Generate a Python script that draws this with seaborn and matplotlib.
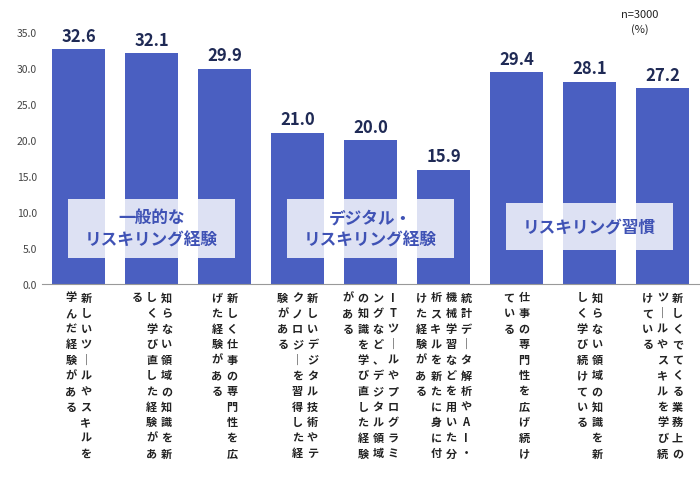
import matplotlib
matplotlib.use("Agg")
import matplotlib.pyplot as plt
import seaborn as sns
import pandas as pd

labels = [
    "新しいツールやスキルを学んだ経験がある",
    "知らない領域の知識を新しく学び直した経験がある",
    "新しく仕事の専門性を広げた経験がある",
    "新しいデジタル技術やテクノロジーを習得した経験がある",
    "ITツールやプログラミングなど、デジタル領域の知識を学び直した経験がある",
    "統計データ解析やAI・機械学習などを用いた分析スキルを新たに身に付けた経験がある",
    "仕事の専門性を広げ続けている",
    "知らない領域の知識を新しく学び続けている",
    "新しくでてくる業務上のツールやスキルを学び続けている",
]
values = [32.6, 32.1, 29.9, 21.0, 20.0, 15.9, 29.4, 28.1, 27.2]
groups = ["一般的な\nリスキリング経験", "デジタル・\nリスキリング経験", "リスキリング習慣"]
group_spans = [(0, 2), (3, 5), (6, 8)]
yticks = [0, 5, 10, 15, 20, 25, 30, 35]

plt.rcParams["font.family"] = "Noto Sans CJK JP"
fig = plt.figure(figsize=(7, 4.85), dpi=100)
L, R = 42, 699
ax = fig.add_axes([L/700, 1-285/485, (R-L)/700, (285-33)/485])
df = pd.DataFrame({"x": range(len(values)), "v": values})
sns.barplot(data=df, x="x", y="v", color="#4a5fc1", saturation=1, width=0.73, ax=ax)
ax.set_xlim(-0.5, 8.5)
ax.set_ylim(0, 35)
ax.set_yticks(yticks)
ax.set_yticklabels([f"{t:.1f}" for t in yticks], fontsize=7.5, color="#444444")
ax.set_xticks([])
ax.set_xlabel(""); ax.set_ylabel("")
for s in ["top", "right", "left"]:
    ax.spines[s].set_visible(False)
ax.spines["bottom"].set_color("#999999")
ax.tick_params(axis="y", length=0)

for i, v in enumerate(values):
    ax.text(i, v + 0.6, f"{v:.1f}", ha="center", va="bottom", fontsize=12, fontweight="bold", color="#1f2a55")

for (a, b), g in zip(group_spans, groups):
    yc = 7.7 if "\n" in g else 8.0
    h = 8.2 if "\n" in g else 6.5
    ax.add_patch(plt.Rectangle((a - 0.15, yc - h/2), (b - a) + 0.3, h, facecolor="white", alpha=0.82, edgecolor="none", zorder=3))
    ax.text((a + b)/2, yc, g, ha="center", va="center", fontsize=12, fontweight="bold", color="#3f52b5", zorder=4, linespacing=1.3)

ppu = (R - L)/9
for i, lab in enumerate(labels):
    lab = lab.replace("ー", "｜")
    cols = [lab[k:k+11] for k in range(0, len(lab), 11)]
    n = len(cols)
    cx = L + (i + 0.5)*ppu
    for j, col in enumerate(cols):
        x = cx + ((n - 1)/2 - j)*15
        for r, ch in enumerate(col):
            fig.text(x/700, 1-(298 + r*15.6)/485, ch, ha="center", va="center", fontsize=8, fontweight="bold", color="#222222")

fig.text(640/700, 1-15/485, "n=3000", ha="center", va="center", fontsize=8, color="#222222")
fig.text(640/700, 1-30/485, "(%)", ha="center", va="center", fontsize=8, color="#222222")
fig.savefig("out.png", dpi=100)
